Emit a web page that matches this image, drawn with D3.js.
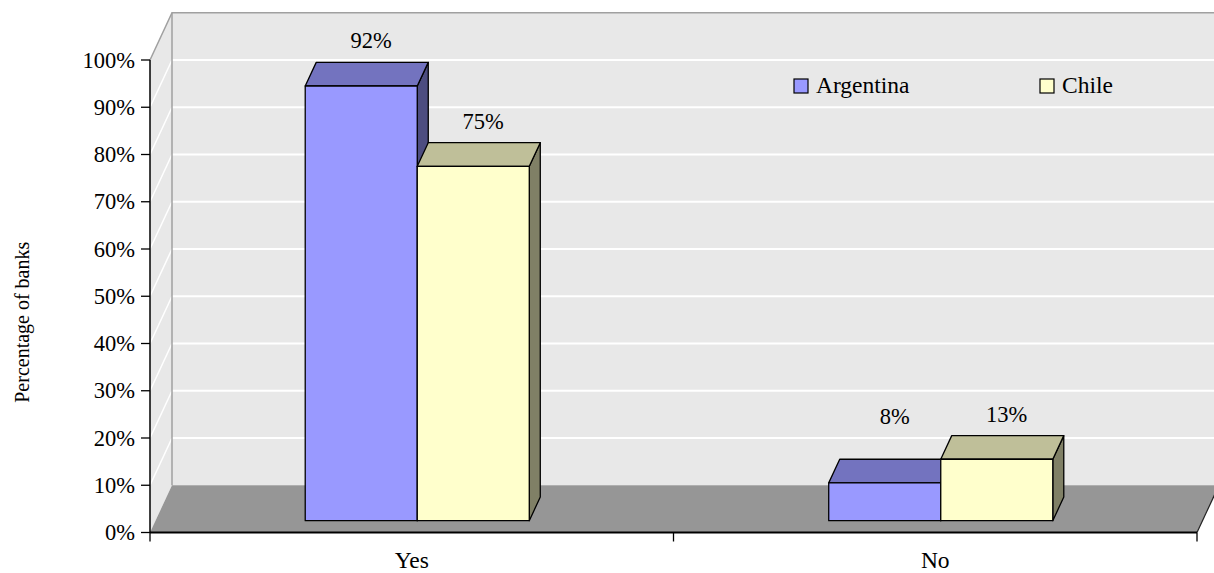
<!DOCTYPE html>
<html>
<head>
<meta charset="utf-8">
<script src="https://cdn.jsdelivr.net/npm/d3@7"></script>
<style>
  html, body { margin: 0; padding: 0; background: #fff; }
  svg { display: block; }
</style>
</head>
<body>
<svg id="chart" width="1214" height="573"></svg>
<script>
// Survey answers by country
const categories = ["Yes", "No"];
const seriesNames = ["Argentina", "Chile"];
const argentina = [92, 8];
const chile = [75, 13];
const yTicks = [0, 10, 20, 30, 40, 50, 60, 70, 80, 90, 100];
const yTitle = "Percentage of banks";

const seriesValues = [argentina, chile];
const palette = [
  { front: "#9999ff", top: "#7373bf", side: "#4d4d80" },
  { front: "#ffffcc", top: "#bfbf99", side: "#808066" }
];

const FONT = "Liberation Serif";
const svg = d3.select("#chart");

// front plane of the plot and the depth offset of the 3D box
const plotL = 150, plotR = 1197, plotB = 532.5, plotT = 60;
const depthX = 22, depthY = 47.25;

const x = d3.scaleBand().domain(categories).range([plotL, plotR]).padding(0);
const y = d3.scaleLinear().domain([0, 100]).range([plotB, plotT]);

// project a point (px on front plane, value, depth fraction 0..1)
const P = (px, v, z) => [px + z * depthX, y(v) - z * depthY];
const poly = pts => pts.map(p => p.join(",")).join(" ");

const g = svg.append("g");

// back wall
g.append("polygon")
  .attr("points", poly([P(plotL, 0, 1), P(plotR, 0, 1), P(plotR, 100, 1), P(plotL, 100, 1)]))
  .attr("fill", "#e8e8e8");
// side wall
g.append("polygon")
  .attr("points", poly([P(plotL, 0, 0), P(plotL, 0, 1), P(plotL, 100, 1), P(plotL, 100, 0)]))
  .attr("fill", "#e8e8e8");

// gridlines on back and side walls
yTicks.filter(t => t > 0 && t < 100).forEach(t => {
  const a = P(plotL, t, 1), b = P(plotR, t, 1), c = P(plotL, t, 0);
  g.append("line").attr("x1", a[0]).attr("y1", a[1]).attr("x2", b[0]).attr("y2", b[1])
    .attr("stroke", "#ffffff").attr("stroke-width", 2);
  g.append("line").attr("x1", c[0]).attr("y1", c[1]).attr("x2", a[0]).attr("y2", a[1])
    .attr("stroke", "#ffffff").attr("stroke-width", 1.5);
});

// wall borders
const tl = P(plotL, 100, 1), tr = P(plotR, 100, 1), bl = P(plotL, 0, 1), fl = P(plotL, 100, 0);
g.append("polyline")
  .attr("points", poly([fl, tl, tr]))
  .attr("fill", "none").attr("stroke", "#a0a0a0").attr("stroke-width", 1.5);
g.append("line").attr("x1", tl[0]).attr("y1", tl[1]).attr("x2", bl[0]).attr("y2", bl[1])
  .attr("stroke", "#a0a0a0").attr("stroke-width", 1.5);

// floor
g.append("polygon")
  .attr("points", poly([P(plotL, 0, 0), P(plotR, 0, 0), P(plotR, 0, 1), P(plotL, 0, 1)]))
  .attr("fill", "#969696");
const fr0 = P(plotR, 0, 0), fr1 = P(plotR, 0, 1);
g.append("line").attr("x1", fr0[0]).attr("y1", fr0[1]).attr("x2", fr1[0]).attr("y2", fr1[1])
  .attr("stroke", "#222").attr("stroke-width", 1.2);

// bars
const groupFrac = 0.428;
const zFront = 0.25, zBack = 0.75;
const inner = d3.scaleBand().domain(seriesNames).range([0, x.bandwidth() * groupFrac]);
const groupOffset = (x.bandwidth() - x.bandwidth() * groupFrac) / 2;

const labels = [];
categories.forEach((cat, ci) => {
  seriesNames.forEach((s, si) => {
    const v = seriesValues[si][ci];
    const x0 = x(cat) + groupOffset + inner(s);
    const x1 = x0 + inner.bandwidth();
    const col = palette[si];
    const bar = g.append("g").attr("stroke", "#000").attr("stroke-width", 1.3).attr("stroke-linejoin", "round");
    // right side
    bar.append("polygon")
      .attr("points", poly([P(x1, 0, zFront), P(x1, 0, zBack), P(x1, v, zBack), P(x1, v, zFront)]))
      .attr("fill", col.side);
    // top
    bar.append("polygon")
      .attr("points", poly([P(x0, v, zFront), P(x1, v, zFront), P(x1, v, zBack), P(x0, v, zBack)]))
      .attr("fill", col.top);
    // front
    bar.append("polygon")
      .attr("points", poly([P(x0, 0, zFront), P(x1, 0, zFront), P(x1, v, zFront), P(x0, v, zFront)]))
      .attr("fill", col.front);
    const backTop = P((x0 + x1) / 2, v, 0.7);
    const floorLimit = P(0, 14.5, 1)[1];
    labels.push({ x: backTop[0], y: Math.min(backTop[1] - 24, floorLimit), text: v + "%" });
  });
});

// value labels
svg.append("g").selectAll("text").data(labels).join("text")
  .attr("x", d => d.x).attr("y", d => d.y)
  .attr("text-anchor", "middle").attr("dominant-baseline", "central")
  .attr("font-family", FONT).attr("font-size", 22.5).attr("fill", "#000")
  .text(d => d.text);

// y axis
const yAxis = svg.append("g");
yAxis.append("line").attr("x1", plotL).attr("x2", plotL).attr("y1", y(100)).attr("y2", y(0))
  .attr("stroke", "#000").attr("stroke-width", 1.5);
yTicks.forEach(t => {
  yAxis.append("line").attr("x1", plotL - 9).attr("x2", plotL).attr("y1", y(t)).attr("y2", y(t))
    .attr("stroke", "#000").attr("stroke-width", 1.3);
  yAxis.append("text")
    .attr("x", plotL - 15).attr("y", y(t))
    .attr("text-anchor", "end").attr("dominant-baseline", "central")
    .attr("font-family", FONT).attr("font-size", 22.5).text(t + "%");
});

// x axis
const xAxis = svg.append("g");
xAxis.append("line").attr("x1", plotL).attr("x2", plotR).attr("y1", plotB).attr("y2", plotB)
  .attr("stroke", "#000").attr("stroke-width", 2);
const xEdges = categories.map(c => x(c)).concat([plotR]);
xEdges.forEach(px => {
  xAxis.append("line").attr("x1", px).attr("x2", px).attr("y1", plotB).attr("y2", plotB + 9)
    .attr("stroke", "#000").attr("stroke-width", 1.3);
});
categories.forEach(c => {
  xAxis.append("text")
    .attr("x", x(c) + x.bandwidth() / 2).attr("y", plotB + 35)
    .attr("text-anchor", "middle")
    .attr("font-family", FONT).attr("font-size", 23.5).text(c);
});

// y axis title
svg.append("text")
  .attr("transform", `translate(22,${(y(100) + y(0)) / 2 + 26}) rotate(-90)`)
  .attr("text-anchor", "middle").attr("dominant-baseline", "central")
  .attr("font-family", FONT).attr("font-size", 20).text(yTitle);

// legend
const legendX = [794, 1040];
const legend = svg.append("g");
seriesNames.forEach((s, i) => {
  legend.append("rect").attr("x", legendX[i]).attr("y", 79).attr("width", 14).attr("height", 14)
    .attr("fill", palette[i].front).attr("stroke", "#000").attr("stroke-width", 1.2);
  legend.append("text")
    .attr("x", legendX[i] + 22).attr("y", 93)
    .attr("font-family", FONT).attr("font-size", 23.5).text(s);
});
</script>
</body>
</html>
